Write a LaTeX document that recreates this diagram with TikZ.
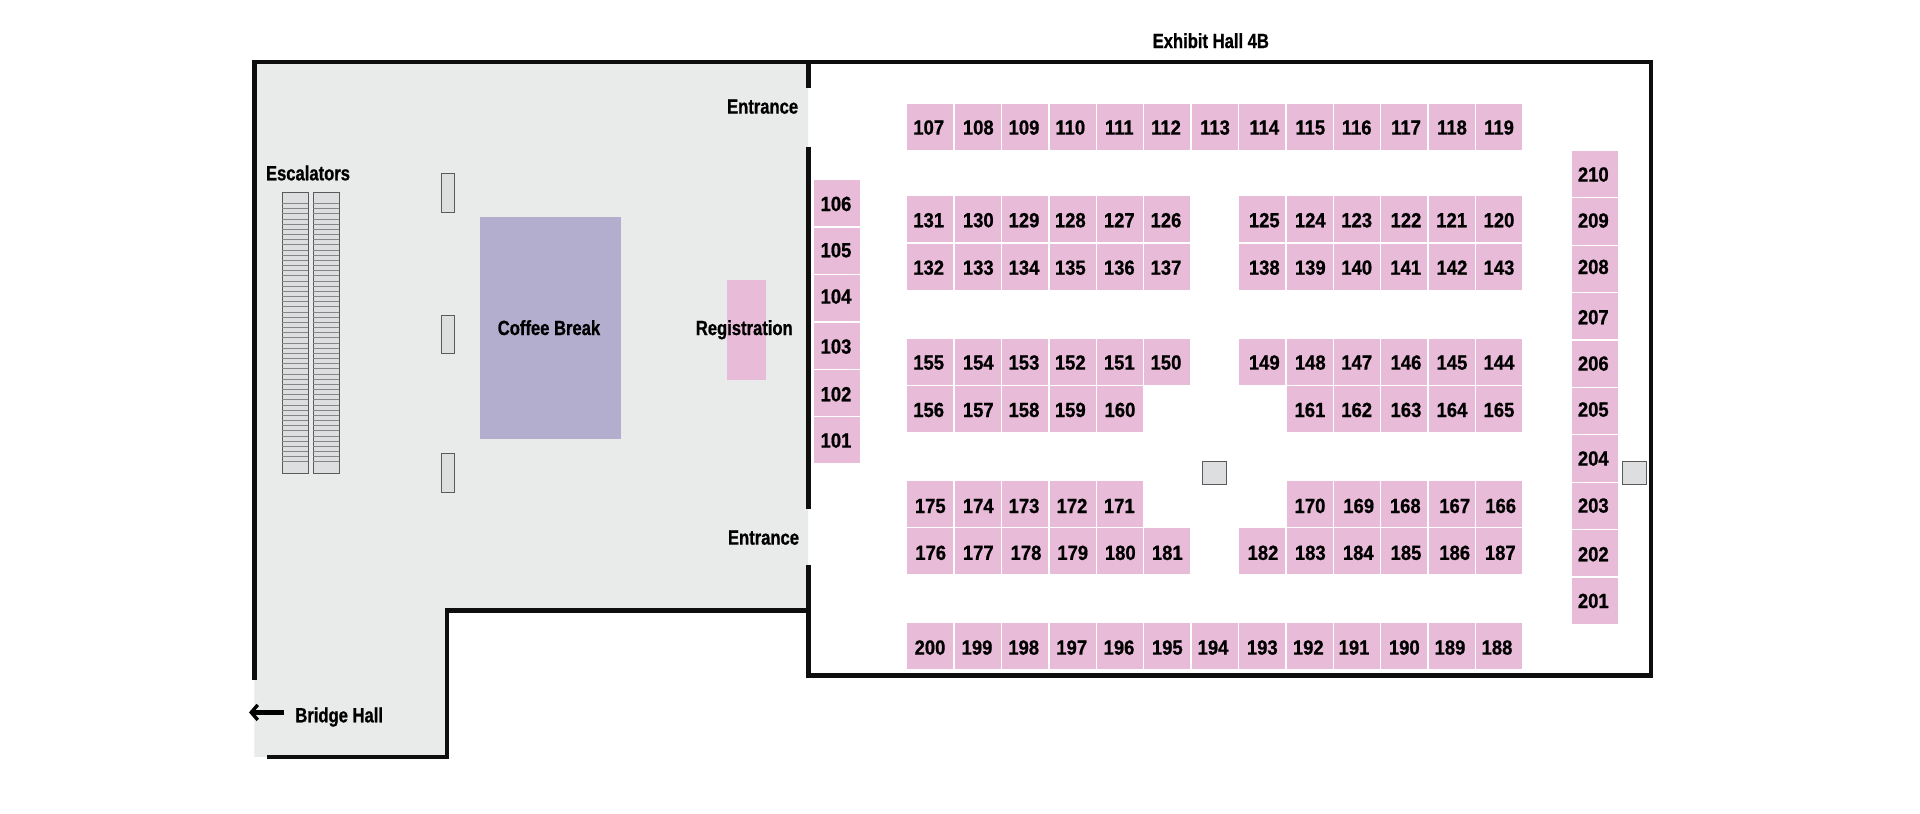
\documentclass[tikz,border=0pt]{standalone}
\usepackage{fontspec}
\setmainfont[FakeStretch=0.81,BoldFeatures={FakeBold=0.8}]{Liberation Sans}
\newfontfamily\boothfont[FakeStretch=0.9,BoldFeatures={FakeBold=0.8}]{Liberation Sans}
\usetikzlibrary{arrows.meta}
\definecolor{wallc}{HTML}{0E0E0E}
\definecolor{foyer}{HTML}{E9EAEA}
\definecolor{boothc}{HTML}{E8BBD8}
\definecolor{coffee}{HTML}{B3ADCE}
\definecolor{fixt}{HTML}{DDDEE0}
\definecolor{fixtline}{HTML}{5A5A5A}
\definecolor{treadc}{HTML}{858585}
\tikzset{
  wall/.style={draw=wallc,line width=4.4pt,line cap=butt,line join=miter},
  fixture/.style={draw=fixtline,fill=fixt,line width=1pt},
  tread/.style={draw=treadc,line width=0.45pt},
  lbl/.style={font=\fontsize{20.5}{22}\selectfont\bfseries,text=black,inner sep=0pt,anchor=center,text height=14.6pt,text depth=0pt},
  numlbl/.style={lbl,font=\boothfont\fontsize{20.5}{22}\selectfont\bfseries},
}
\newcommand{\lblshift}{24}
\newcommand{\hbooth}[4]{%
  \pgfmathsetmacro{\bl}{907.3+47.4*#2}
  \fill[boothc] (\bl,#3+0.3) rectangle ++(46.1,46.1);
  \node[numlbl] (b#1) at (#4,#3+\lblshift) {#1};}
\begin{document}
\begin{tikzpicture}[x=1pt,y=-1pt]
\useasboundingbox (0,0) rectangle (1920,814);
% foyer
\fill[foyer] (254.3,61.7) -- (808,61.7) -- (808,610.5) -- (446.7,610.5) -- (446.7,756.9) -- (254.3,756.9) -- cycle;
% walls
\coordinate (tl) at (254.5,61.7);
\coordinate (tr) at (1650.7,61.7);
\coordinate (br) at (1650.7,675.3);
\coordinate (bm) at (808.3,675.3);
\coordinate (le) at (254.5,680);
\coordinate (ne) at (808.3,61.7);
\coordinate (n1) at (808.3,88.3);
\coordinate (n2) at (808.3,146.7);
\coordinate (n3) at (808.3,509);
\coordinate (n4) at (808.3,565);
\coordinate (c1) at (808.3,610.5);
\coordinate (c2) at (446.7,610.5);
\coordinate (c3) at (446.7,757);
\coordinate (c4) at (266.7,757);
\draw[wall] (le) -- (tl) -- (tr) -- (br) -- (bm) -- (n4);
\draw[wall] (ne) -- (n1);
\draw[wall] (n2) -- (n3);
\draw[wall] (c1) -- (c2) -- (c3) -- (c4);
% escalators
\foreach \xa/\xb in {282.2/308,313.3/339}{
  \draw[fixture] (\xa,192.7) rectangle (\xb,473.3);
  \foreach \i in {0,...,50}{
    \draw[tread] (\xa,203.3+5.168*\i) -- (\xb,203.3+5.168*\i);
  }
}
\node[lbl] (esc) at (308,173) {Escalators};
% pillars
\draw[fixture] (441.8,173.3) rectangle (454.5,212.3);
\draw[fixture] (441.8,315) rectangle (454.5,353.3);
\draw[fixture] (441.8,453.3) rectangle (454.5,492.3);
\draw[fixture] (1202.7,461.3) rectangle (1226.7,484.3);
\draw[fixture] (1622.3,461.3) rectangle (1646,484.3);
% coffee and registration
\fill[coffee] (480.4,216.5) rectangle (620.6,438.6);
\node[lbl] (coffee) at (549,327.7) {Coffee Break};
\fill[boothc] (727.3,280.4) rectangle (765.9,380.3);
\node[lbl] (reg) at (744.3,327.7) {Registration};
\node[lbl] (en1) at (762.6,106.3) {Entrance};
\node[lbl] (en2) at (763.5,537.3) {Entrance};
\node[lbl] (title) at (1210.8,40.7) {Exhibit Hall 4B};
\node[lbl] (bridge) at (339.2,715) {Bridge Hall};
\coordinate (arrowtail) at (284,712.4);
\coordinate (arrowtip) at (249,712.4);
\draw[draw=black,line width=4.2pt,-{Straight Barb[length=6.5pt,width=15pt,line width=3.4pt]}] (arrowtail) -- (arrowtip);
% rows: label/column/labelx
\foreach \n/\c/\lx in {107/0/928.7,108/1/978.3,109/2/1024,110/3/1070.3,111/4/1119.3,112/5/1166,113/6/1215,114/7/1264.3,115/8/1310.3,116/9/1356.7,117/10/1406,118/11/1452,119/12/1499}
  {\hbooth{\n}{\c}{103.3}{\lx}}
\foreach \n/\c/\lx in {131/0/928.7,130/1/978.3,129/2/1024,128/3/1070.3,127/4/1119.3,126/5/1166,125/7/1264.3,124/8/1310.3,123/9/1356.7,122/10/1406,121/11/1451.7,120/12/1499}
  {\hbooth{\n}{\c}{196}{\lx}}
\foreach \n/\c/\lx in {132/0/928.7,133/1/978.3,134/2/1024,135/3/1070.3,136/4/1119.3,137/5/1166,138/7/1264.3,139/8/1310.3,140/9/1356.7,141/10/1405.7,142/11/1452,143/12/1499}
  {\hbooth{\n}{\c}{243.4}{\lx}}
\foreach \n/\c/\lx in {155/0/928.7,154/1/978.3,153/2/1024,152/3/1070.3,151/4/1119.3,150/5/1166,149/7/1264.3,148/8/1310.3,147/9/1356.7,146/10/1406,145/11/1452,144/12/1499}
  {\hbooth{\n}{\c}{338.3}{\lx}}
\foreach \n/\c/\lx in {156/0/928.7,157/1/978.3,158/2/1024,159/3/1070.3,160/4/1120,161/8/1310,162/9/1356.7,163/10/1406,164/11/1452,165/12/1499}
  {\hbooth{\n}{\c}{385.7}{\lx}}
\renewcommand{\lblshift}{25.5}
\foreach \n/\c/\lx in {175/0/930.3,174/1/978.3,173/2/1024,172/3/1072,171/4/1119.3,170/8/1310,169/9/1358.7,168/10/1405.3,167/11/1454.7,166/12/1500.7}
  {\hbooth{\n}{\c}{480.2}{\lx}}
\renewcommand{\lblshift}{24.6}
\foreach \n/\c/\lx in {176/0/930.7,177/1/978.3,178/2/1026,179/3/1072.7,180/4/1120.3,181/5/1167.3,182/7/1263,183/8/1310.3,184/9/1358.3,185/10/1406,186/11/1454.7,187/12/1500.3}
  {\hbooth{\n}{\c}{528}{\lx}}
\foreach \n/\c/\lx in {200/0/930,199/1/977,198/2/1023.7,197/3/1071.7,196/4/1119,195/5/1167.3,194/6/1213,193/7/1262.3,192/8/1308.3,191/9/1354,190/10/1404.3,189/11/1450,188/12/1497}
  {\hbooth{\n}{\c}{622.7}{\lx}}
% left column
\foreach \n/\i/\ly in {106/0/203.7,105/1/250,104/2/296.3,103/3/346.3,102/4/394,101/5/440.3}{
  \fill[boothc] (813.5,180.3+47.4*\i) rectangle ++(46,46.1);
  \node[numlbl] (b\n) at (836,\ly) {\n};
}
% right column
\foreach \n/\i/\ly in {210/0/174.3,209/1/220.3,208/2/266.7,207/3/317,206/4/363.3,205/5/409.3,204/6/458.3,203/7/505.3,202/8/554,201/9/600.7}{
  \fill[boothc] (1571.5,151+47.4*\i) rectangle ++(46,46.1);
  \node[numlbl] (b\n) at (1593.3,\ly) {\n};
}
\end{tikzpicture}
\end{document}
